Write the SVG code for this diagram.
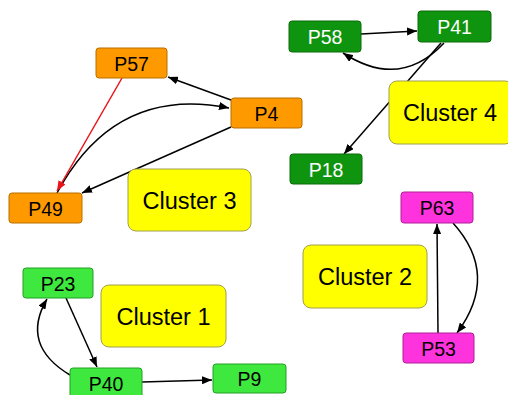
<svg xmlns="http://www.w3.org/2000/svg" width="508" height="395" viewBox="0 0 508 395">
<defs>
<marker id="ah" viewBox="0 0 10 8" refX="10" refY="4" markerWidth="10" markerHeight="8" markerUnits="userSpaceOnUse" orient="auto">
<path d="M0,0 L10,4 L0,8 z" fill="#000"/>
</marker>
<marker id="ahr" viewBox="0 0 10 8" refX="10" refY="4" markerWidth="10" markerHeight="8" markerUnits="userSpaceOnUse" orient="auto">
<path d="M0,0 L10,4 L0,8 z" fill="#e8141b"/>
</marker>
</defs>
<style>
text{font-family:"Liberation Sans",Arial,sans-serif;text-anchor:middle;dominant-baseline:central}
.n{font-size:19.5px}
.c{font-size:23.5px}
.or{fill:#ff9900;stroke:#b86e00;stroke-width:1}
.dg{fill:#0f9410;stroke:#0a6a0a;stroke-width:1}
.lg{fill:#3ee83e;stroke:#22a022;stroke-width:1}
.mg{fill:#ff33dd;stroke:#b0209a;stroke-width:1}
.cl{fill:#ffff00;stroke:#a0a050;stroke-width:1}
.e{fill:none;stroke:#000;stroke-width:1.5;marker-end:url(#ah)}
.er{fill:none;stroke:#e8141b;stroke-width:1.5;marker-end:url(#ahr)}
</style>
<rect width="508" height="395" fill="#fff"/>
<g id="connectors">
<path class="e" d="M231,100 L168,77"/>
<path class="e" d="M57,193 Q115,85 229,108"/>
<path class="e" d="M231,127 L82,193"/>
<path class="er" d="M122,78 L57,191"/>
<path class="e" d="M361,34 L417,31"/>
<path class="e" d="M444,43 Q400,90 343,53"/>
<path class="e" d="M441,43 L344,154"/>
<path class="e" d="M66,298 L97,367"/>
<path class="e" d="M70,375 Q20,345 47,299"/>
<path class="e" d="M142,382 L212,380"/>
<path class="e" d="M438,333 L437,224"/>
<path class="e" d="M453,223 Q500,275 457,333"/>
</g>
<g id="P57"><rect class="or" x="96" y="48" width="71" height="30" rx="3"/><text class="n" x="131.5" y="63.5">P57</text></g>
<g id="P4"><rect class="or" x="231" y="98" width="71" height="30" rx="3"/><text class="n" x="266.5" y="113.5">P4</text></g>
<g id="P49"><rect class="or" x="9" y="193" width="73" height="30" rx="3"/><text class="n" x="45.5" y="208.5">P49</text></g>
<g id="Cluster3"><rect class="cl" x="128" y="169" width="123" height="62" rx="8"/><text class="c" x="189.5" y="200.5">Cluster 3</text></g>
<g id="P58"><rect class="dg" x="289" y="21" width="72" height="31" rx="3"/><text class="n" x="325" y="37" fill="#fff">P58</text></g>
<g id="P41"><rect class="dg" x="418" y="11" width="73" height="31" rx="3"/><text class="n" x="454.5" y="27" fill="#fff">P41</text></g>
<g id="P18"><rect class="dg" x="290" y="154" width="72" height="30" rx="3"/><text class="n" x="326" y="169.5" fill="#fff">P18</text></g>
<g id="Cluster4"><rect class="cl" x="389" y="81" width="124" height="63" rx="8"/><text class="c" x="450" y="113">Cluster 4</text></g>
<g id="P23"><rect class="lg" x="23" y="268" width="70" height="30" rx="3"/><text class="n" x="58" y="283.5">P23</text></g>
<g id="Cluster1"><rect class="cl" x="101" y="285" width="125" height="62" rx="8"/><text class="c" x="163.5" y="316.5">Cluster 1</text></g>
<g id="P40"><rect class="lg" x="70" y="368" width="72" height="30" rx="3"/><text class="n" x="106" y="383.5">P40</text></g>
<g id="P9"><rect class="lg" x="213" y="364" width="73" height="29" rx="3"/><text class="n" x="249.5" y="379">P9</text></g>
<g id="P63"><rect class="mg" x="401" y="192" width="72" height="31" rx="3"/><text class="n" x="437" y="208">P63</text></g>
<g id="Cluster2"><rect class="cl" x="303" y="245" width="124" height="63" rx="8"/><text class="c" x="365" y="277">Cluster 2</text></g>
<g id="P53"><rect class="mg" x="403" y="333" width="71" height="30" rx="3"/><text class="n" x="438.5" y="348.5">P53</text></g>
</svg>
